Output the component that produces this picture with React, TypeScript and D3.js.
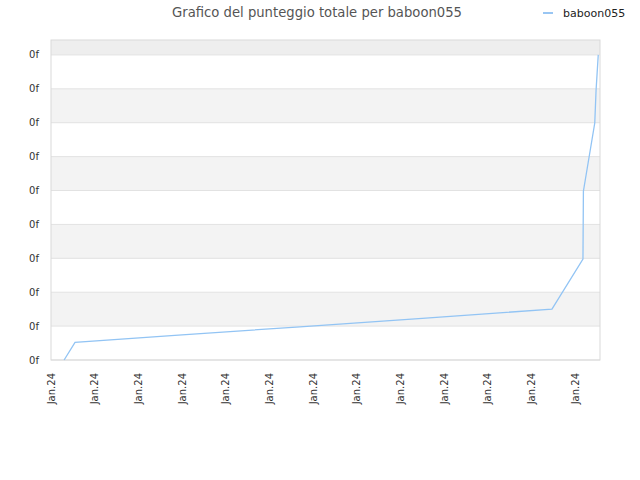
import * as d3 from "d3";

const title = "Grafico del punteggio totale per baboon055";
const seriesName = "baboon055";
const xTickLabels = [
  "Jan.24", "Jan.24", "Jan.24", "Jan.24", "Jan.24", "Jan.24", "Jan.24",
  "Jan.24", "Jan.24", "Jan.24", "Jan.24", "Jan.24", "Jan.24",
];
const yTickLabels = ["0f", "0f", "0f", "0f", "0f", "0f", "0f", "0f", "0f", "0f"];
// position along the time axis (tick units) and score level
const pointX = [0.3, 0.55, 3.0, 5.7, 8.5, 11.47, 12.18, 12.19, 12.45, 12.48, 12.53];
const pointY = [0, 0.52, 0.74, 0.98, 1.23, 1.5, 2.98, 4.98, 6.99, 7.96, 9.0];

const W = 640;
const H = 480;
const margin = { top: 40, right: 40, bottom: 120, left: 51 };
const font = "DejaVu Sans, sans-serif";

export default function App() {
  const x = d3
    .scaleLinear()
    .domain([0, 12.57])
    .range([margin.left, W - margin.right]);
  const y = d3
    .scaleLinear()
    .domain([0, 9.44])
    .range([H - margin.bottom, margin.top]);

  const yTicks = yTickLabels.map((_, i) => i);
  const xTicks = xTickLabels.map((_, i) => i);
  const pts = pointX.map((v, i) => [v, pointY[i]] as [number, number]);
  const line = d3
    .line<[number, number]>()
    .x((d) => x(d[0]))
    .y((d) => y(d[1]));

  const yMax = y.domain()[1];
  const bands = yTicks.map((t) => ({
    lo: t,
    hi: Math.min(t + 1, yMax),
    fill: t === yTicks.length - 1 ? "#eeeeee" : t % 2 === 1 ? "#f3f3f3" : "#ffffff",
  }));

  return (
    <svg
      width={W}
      height={H}
      style={{ position: "absolute", left: 0, top: 0, background: "#fff" }}
    >
      <text
        x={317}
        y={17}
        textAnchor="middle"
        fontFamily={font}
        fontSize={13.2}
        fill="#555"
      >
        {title}
      </text>

      <line x1={543} x2={553} y1={13} y2={13} stroke="#99c6f3" strokeWidth={2} />
      <text x={563} y={17} fontFamily={font} fontSize={11} fill="#222">
        {seriesName}
      </text>

      {bands.map((b, i) => (
        <rect
          key={i}
          x={x(0)}
          width={x.range()[1] - x(0)}
          y={y(b.hi)}
          height={y(b.lo) - y(b.hi)}
          fill={b.fill}
        />
      ))}
      {yTicks.map((t) => (
        <line
          key={t}
          x1={x.range()[0]}
          x2={x.range()[1]}
          y1={y(t)}
          y2={y(t)}
          stroke="#e2e2e2"
        />
      ))}
      <rect
        x={x.range()[0]}
        y={y.range()[1]}
        width={x.range()[1] - x.range()[0]}
        height={y.range()[0] - y.range()[1]}
        fill="none"
        stroke="#d9d9d9"
      />

      {yTicks.map((t, i) => (
        <text
          key={t}
          x={39}
          y={y(t)}
          dy="0.35em"
          textAnchor="end"
          fontFamily={font}
          fontSize={10}
          fill="#333"
        >
          {yTickLabels[i]}
        </text>
      ))}
      {xTicks.map((t, i) => (
        <text
          key={t}
          transform={`translate(${x(t)},${y(0) + 13}) rotate(-90)`}
          dy="0.35em"
          textAnchor="end"
          fontFamily={font}
          fontSize={10}
          fill="#333"
        >
          {xTickLabels[i]}
        </text>
      ))}

      <path d={line(pts) ?? ""} fill="none" stroke="#92c4f4" strokeWidth={1.3} />
    </svg>
  );
}
